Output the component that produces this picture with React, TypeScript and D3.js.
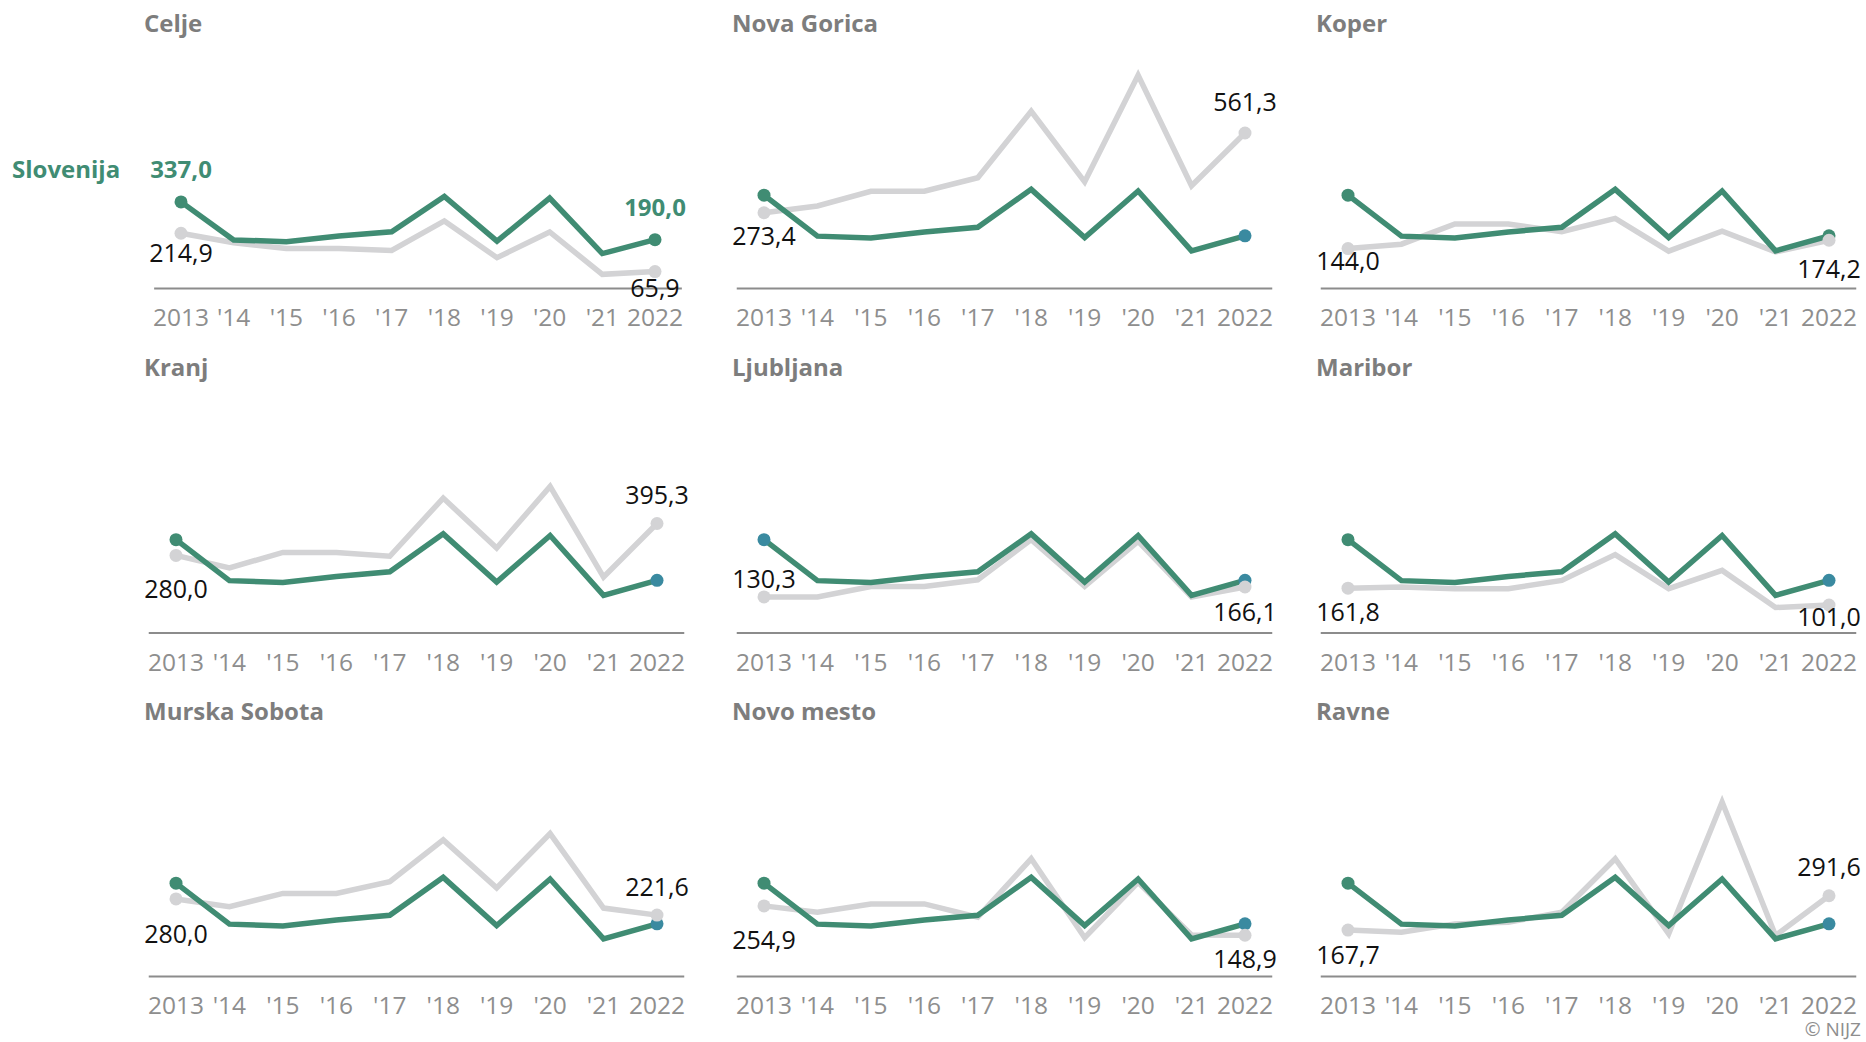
import React from "react";
import * as d3 from "d3";

// ---------- data ----------
const years = [2013, 2014, 2015, 2016, 2017, 2018, 2019, 2020, 2021, 2022];
const tickLabels = ["2013", "'14", "'15", "'16", "'17", "'18", "'19", "'20", "'21", "2022"];
const regionNames = ["Celje", "Nova Gorica", "Koper", "Kranj", "Ljubljana", "Maribor", "Murska Sobota", "Novo mesto", "Ravne"];

const slovenija = [337.0, 189, 182, 204, 221, 358, 184, 352, 136, 190.0];

const celje = [214.9, 178, 156, 156, 148, 263, 120, 220, 55, 65.9];
const novaGorica = [273.4, 298, 351, 351, 400, 640, 385, 770, 371, 561.3];
const koper = [144.0, 160, 233, 233, 205, 253, 135, 207, 132, 174.2];
const kranj = [280.0, 235, 291, 291, 277, 487, 307, 529, 202, 395.3];
const ljubljana = [130.3, 130, 168, 168, 192, 337, 168, 331, 130, 166.1];
const maribor = [161.8, 166, 160, 160, 190, 283, 160, 226, 92, 101.0];
const murskaSobota = [280.0, 252, 300, 300, 342, 493, 320, 516, 247, 221.6];
const novoMesto = [254.9, 232, 262, 262, 214, 425, 140, 340, 150, 148.9];
const ravne = [167.7, 160, 190, 196, 232, 425, 154, 630, 148, 291.6];

const regionSeries = [celje, novaGorica, koper, kranj, ljubljana, maribor, murskaSobota, novoMesto, ravne];

// ---------- layout / style ----------
const W = 1866;
const H = 1042;
const rowAxisY = [288.5, 633, 976.5];
const colX0 = [176, 764, 1348];
const plotW = 481;
const plotH = 221.6;
const yMaxDomain = 800;
// first panel has a slightly narrower / shorter plot area (room for labels)
const celjeInset = { left: 5, right: -2, top: 16 };

// label vertical offsets (baseline relative to the dot)
const firstLabelDy = [29, 32, 21, 43, -9, 33, 44, 43, 34];
const lastLabelDy = [25, -22, 38, -20, 34, 21, -19, 33, -20];
// endpoint dot colours of the national line per panel
const firstDotBlue = [false, false, false, false, true, false, false, false, false];
const lastDotBlue = [false, true, false, true, true, true, true, true, true];

const GREEN = "#408c73";
const BLUE = "#3a8aa0";
const GREY_LINE = "#d3d3d5";
const AXIS = "#8c8c8c";
const TICK = "#8e8e8e";
const TITLE = "#7d7d7d";
const FONT = "'Open Sans', 'Noto Sans', sans-serif";

const fmt = (v: number) => d3.format(".1f")(v).replace(".", ",");

function Panel({ idx }: { idx: number }) {
  const row = Math.floor(idx / 3);
  const col = idx % 3;
  const isFirst = idx === 0;
  const axisY = rowAxisY[row];
  const x0 = colX0[col] + (isFirst ? celjeInset.left : 0);
  const x1 = colX0[col] + plotW + (isFirst ? celjeInset.right : 0);
  const top = axisY - plotH + (isFirst ? celjeInset.top : 0);

  const x = d3.scalePoint<number>().domain(years).range([x0, x1]);
  const y = d3.scaleLinear().domain([0, yMaxDomain]).range([axisY, top]);
  const line = d3
    .line<number>()
    .x((_, i) => x(years[i]) as number)
    .y((d) => y(d));

  const reg = regionSeries[idx];
  const step = x.step();
  const lineX0 = x0 - step * 0.51;
  const lineX1 = x1 + step * 0.51;
  const xf = x(years[0]) as number;
  const xl = x(years[years.length - 1]) as number;

  return (
    <g>
      <text
        x={colX0[col] - 32}
        y={axisY - 257}
        fontFamily={FONT}
        fontWeight={700}
        fontSize={24}
        fill={TITLE}
      >
        {regionNames[idx]}
      </text>
      <line x1={lineX0} x2={lineX1} y1={axisY} y2={axisY} stroke={AXIS} strokeWidth={2} />
      {tickLabels.map((t, i) => (
        <text
          key={t}
          x={x(years[i])}
          y={axisY + 37.5}
          textAnchor="middle"
          fontFamily={FONT}
          fontSize={24.5}
          fill={TICK}
        >
          {t}
        </text>
      ))}
      <path d={line(reg) || ""} fill="none" stroke={GREY_LINE} strokeWidth={5.5} strokeLinejoin="miter" />
      <path d={line(slovenija) || ""} fill="none" stroke={GREEN} strokeWidth={5.5} strokeLinejoin="miter" />
      <circle cx={xf} cy={y(slovenija[0])} r={6.5} fill={firstDotBlue[idx] ? BLUE : GREEN} />
      <circle cx={xl} cy={y(slovenija[slovenija.length - 1])} r={6.5} fill={lastDotBlue[idx] ? BLUE : GREEN} />
      <circle cx={xf} cy={y(reg[0])} r={6.5} fill={GREY_LINE} />
      <circle cx={xl} cy={y(reg[reg.length - 1])} r={6.5} fill={GREY_LINE} />
      <text
        x={xf}
        y={y(reg[0]) + firstLabelDy[idx]}
        textAnchor="middle"
        fontFamily={FONT}
        fontSize={25}
        fill="#111"
      >
        {fmt(reg[0])}
      </text>
      <text
        x={xl}
        y={y(reg[reg.length - 1]) + lastLabelDy[idx]}
        textAnchor="middle"
        fontFamily={FONT}
        fontSize={25}
        fill="#111"
      >
        {fmt(reg[reg.length - 1])}
      </text>
      {isFirst && (
        <g fontFamily={FONT} fontWeight={700} fontSize={24} fill={GREEN}>
          <text x={12} y={y(slovenija[0]) - 24}>Slovenija</text>
          <text x={xf} y={y(slovenija[0]) - 24} textAnchor="middle">
            {fmt(slovenija[0])}
          </text>
          <text x={xl} y={y(slovenija[slovenija.length - 1]) - 24} textAnchor="middle">
            {fmt(slovenija[slovenija.length - 1])}
          </text>
        </g>
      )}
    </g>
  );
}

export default function App() {
  return (
    <svg
      width={W}
      height={H}
      viewBox={`0 0 ${W} ${H}`}
      style={{ position: "absolute", left: 0, top: 0, background: "#fff" }}
    >
      {regionNames.map((_, i) => (
        <Panel key={i} idx={i} />
      ))}
      <text x={1861} y={1036} textAnchor="end" fontFamily={FONT} fontSize={19} fill={TICK}>
        © NIJZ
      </text>
    </svg>
  );
}
